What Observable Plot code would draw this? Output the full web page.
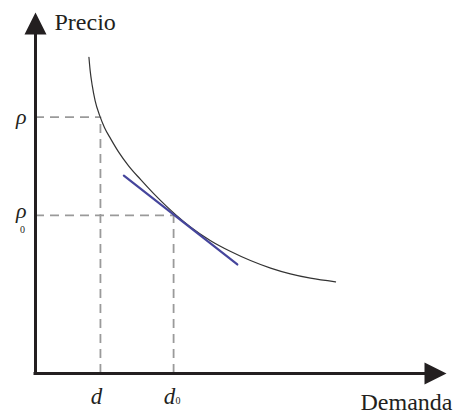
<!DOCTYPE html>
<html>
<head>
<meta charset="utf-8">
<script src="https://cdn.jsdelivr.net/npm/d3@7"></script>
<script src="https://cdn.jsdelivr.net/npm/@observablehq/plot@0.6"></script>
<style>
  html, body { margin: 0; padding: 0; background: #fff; }
</style>
</head>
<body>
<div id="chart"></div>
<script>
// Demand curve (arbitrary units, 0–100 on each axis)
const curveX = [13.0, 13.3, 13.8, 14.5, 15.6, 16.8, 18.3, 20.2, 22.6, 25.6, 28.7, 31.9, 34.3, 37.7, 42.6, 47.5, 52.3, 57.2, 62.0, 66.9, 73.0];
const curveY = [87.6, 83.9, 79.8, 75.6, 71.5, 68.1, 65.0, 61.4, 57.6, 53.7, 49.9, 46.3, 43.8, 40.6, 36.8, 33.8, 31.3, 29.2, 27.6, 26.4, 25.4];

// Tangent line at (d0, ρ0)
const tangentX = [21.5, 49.1];
const tangentY = [54.8, 30.2];

// Marked points
const demandTicks = [15.8, 33.6];
const demandLabels = ["d", "d"];
const demandSubs = ["", "0"];
const priceTicks = [71.0, 43.8];
const priceLabels = ["ρ", "ρ"];
const priceSubs = ["", "0"];

const axisTitles = ["Precio", "Demanda"];

const serif = '"Liberation Serif", "DejaVu Serif", serif';
const ink = "#231f20";
const curve = curveX.map((x, i) => ({x, y: curveY[i]}));
const tangent = tangentX.map((x, i) => ({x, y: tangentY[i]}));
const marked = demandTicks.map((x, i) => ({x, y: priceTicks[i], dl: demandLabels[i], ds: demandSubs[i], pl: priceLabels[i], ps: priceSubs[i]}));

const arrowHead = {
  draw(ctx, size) {
    const r = Math.sqrt(size / Math.PI);
    ctx.moveTo(0, -r);
    ctx.lineTo(r, r);
    ctx.lineTo(-r, r);
    ctx.closePath();
  }
};

const dashed = {stroke: "#9a9a9a", strokeWidth: 1.8, strokeDasharray: "9,6"};
const axisStyle = {stroke: ink, strokeWidth: 3, strokeLinecap: "square"};
const greek = {x: 0, y: "y", text: "pl", textAnchor: "end", lineAnchor: "middle", dx: -9, fontSize: 22, fontStyle: "italic", fontFamily: serif, fill: ink};

const chart = Plot.plot({
  width: 457,
  height: 416,
  marginLeft: 35,
  marginRight: 11,
  marginTop: 12,
  marginBottom: 43,
  x: {domain: [0, 100], axis: null},
  y: {domain: [0, 100], axis: null},
  style: {background: "#fff", overflow: "visible"},
  marks: [
    Plot.ruleY(marked, {y: "y", x1: 0, x2: "x", ...dashed}),
    Plot.ruleX(marked, {x: "x", y1: 0, y2: "y", ...dashed}),
    Plot.line(curve, {x: "x", y: "y", curve: "monotone-x", stroke: "#333", strokeWidth: 1.2}),
    Plot.line(tangent, {x: "x", y: "y", stroke: "#45459c", strokeWidth: 2.2}),
    Plot.ruleX([0], {x: d => d, y1: 0, y2: 97, ...axisStyle}),
    Plot.ruleY([0], {y: d => d, x1: 0, x2: 97, ...axisStyle}),
    Plot.dot([0], {x: 0, y: 100, symbol: arrowHead, r: 11, fill: ink, stroke: "none", dy: 11}),
    Plot.dot([0], {x: 100, y: 0, symbol: arrowHead, r: 11, fill: ink, stroke: "none", dx: -11, rotate: 90}),
    Plot.text([axisTitles[0]], {x: 0, y: 100, text: d => d, textAnchor: "start", lineAnchor: "bottom", dx: 19, dy: 17, fontSize: 24, fontFamily: serif, fill: ink}),
    Plot.text([axisTitles[1]], {x: 100, y: 0, text: d => d, textAnchor: "end", lineAnchor: "bottom", dx: 6, dy: 36, fontSize: 24, fontFamily: serif, fill: ink}),
    Plot.text(marked.filter(d => !d.ps), {...greek, dy: 0}),
    Plot.text(marked.filter(d => d.ps), {...greek, dy: -4}),
    Plot.text(marked.filter(d => d.ps), {x: 0, y: "y", text: "ps", textAnchor: "middle", lineAnchor: "middle", dx: -13, dy: 14, fontSize: 10, fontFamily: serif, fill: ink}),
    Plot.text(marked, {x: "x", y: 0, text: "dl", textAnchor: "middle", lineAnchor: "bottom", dx: -4, dy: 30, fontSize: 23, fontStyle: "italic", fontFamily: serif, fill: ink}),
    Plot.text(marked.filter(d => d.ds), {x: "x", y: 0, text: "ds", textAnchor: "middle", lineAnchor: "bottom", dx: 4.5, dy: 30, fontSize: 10, fontFamily: serif, fill: ink})
  ]
});
document.getElementById("chart").appendChild(chart);
</script>
</body>
</html>
